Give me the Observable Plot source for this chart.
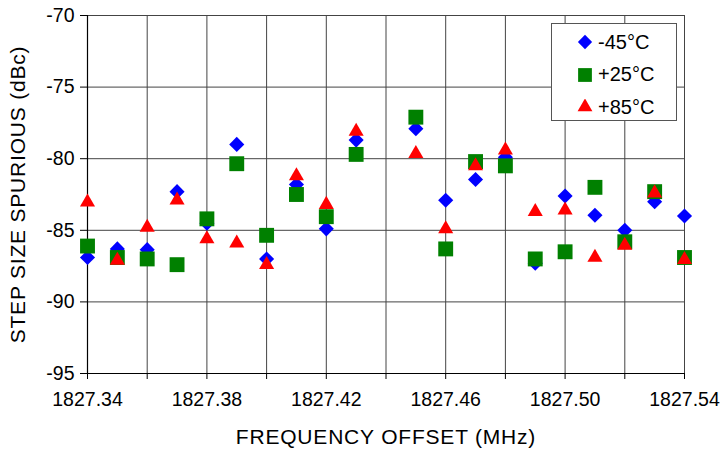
<!DOCTYPE html>
<html>
<head>
<meta charset="utf-8">
<script src="https://cdn.jsdelivr.net/npm/d3@7"></script>
<script src="https://cdn.jsdelivr.net/npm/@observablehq/plot@0.6"></script>
<style>
  html, body { margin: 0; padding: 0; background: #fff; }
  #wrap { position: relative; width: 722px; height: 450px; font-family: "Liberation Sans", Arial, sans-serif; }
  #legend { position: absolute; left: 551px; top: 23px; width: 124px; height: 96px; border: 1.5px solid #555; background: #fff; }
  .row { position: absolute; left: 0; height: 32px; display: flex; align-items: center; font-size: 20px; color: #000; }
  .row svg { margin-left: 25px; margin-right: 5px; }
  svg g[aria-label="x-axis label"] text, svg g[aria-label="y-axis label"] text { letter-spacing: 0.8px; font-size: 21px; }
</style>
</head>
<body>
<div id="wrap"></div>
<script>
// Frequencies (MHz)
const freq = [1827.34, 1827.35, 1827.36, 1827.37, 1827.38, 1827.39, 1827.40, 1827.41, 1827.42, 1827.43,
              1827.45, 1827.46, 1827.47, 1827.48, 1827.49, 1827.50, 1827.51, 1827.52, 1827.53, 1827.54];
// Step size spurious (dBc)
const m45 = [-86.9, -86.3, -86.35, -82.3, -84.5, -79.0, -87.0, -81.8, -84.9, -78.7,
             -77.9, -82.9, -81.45, -79.9, -87.3, -82.6, -83.95, -85.0, -83.0, -84.0];
const p25 = [-86.1, -86.9, -87.0, -87.4, -84.2, -80.35, -85.35, -82.5, -84.05, -79.7,
             -77.1, -86.3, -80.2, -80.5, -87.0, -86.5, -82.0, -85.8, -82.3, -86.9];
const p85 = [-83.03, -87.1, -84.8, -82.9, -85.6, -85.9, -87.4, -81.2, -83.2, -78.1,
             -79.65, -84.9, -80.5, -79.4, -83.7, -83.6, -86.9, -86.05, -82.4, -87.05];
const seriesNames = ["-45°C", "+25°C", "+85°C"];
const xTicks = [1827.34, 1827.36, 1827.38, 1827.40, 1827.42, 1827.44, 1827.46, 1827.48, 1827.50, 1827.52, 1827.54];
const xTickLabels = ["1827.34", "", "1827.38", "", "1827.42", "", "1827.46", "", "1827.50", "", "1827.54"];
const yTicks = [-95, -90, -85, -80, -75, -70];

const mk = vals => freq.map((f, i) => ({x: f, y: vals[i]}));
const dBlue = mk(m45), dGreen = mk(p25), dRed = mk(p85);

const gridColor = "#444";
const chart = Plot.plot({
  width: 722, height: 450,
  marginLeft: 87, marginRight: 38, marginTop: 15, marginBottom: 77,
  style: { fontFamily: "'Liberation Sans', Arial, sans-serif", fontSize: "20px", color: "#000", background: "#fff", overflow: "visible" },
  x: { domain: [1827.34, 1827.54] },
  y: { domain: [-95, -70] },
  marks: [
    Plot.gridX(xTicks, { stroke: gridColor, strokeOpacity: 1, strokeWidth: 1 }),
    Plot.gridY(yTicks, { stroke: gridColor, strokeOpacity: 1, strokeWidth: 1 }),
    Plot.ruleX([1827.34], { stroke: "#000", strokeWidth: 1.2 }),
    Plot.ruleY([-95], { stroke: "#000", strokeWidth: 1.2 }),
    Plot.axisY(yTicks, {
      tickSize: 7, tickPadding: 6, tickFormat: d => String(d),
      label: "STEP SIZE SPURIOUS (dBc)", labelAnchor: "center", labelArrow: "none", labelOffset: 77,
      fontSize: 19.5
    }),
    Plot.axisX(xTicks, {
      tickSize: 6, tickPadding: 13, tickFormat: d => xTickLabels[xTicks.indexOf(d)],
      label: "FREQUENCY OFFSET (MHz)", labelAnchor: "center", labelArrow: "none", labelOffset: 70,
      fontSize: 19.5
    }),
    Plot.dot(dBlue, { x: "x", y: "y", symbol: "diamond2", fill: "#0000ff", stroke: "none", r: 6.8 }),
    Plot.dot(dGreen, { x: "x", y: "y", symbol: "square", fill: "#008000", stroke: "none", r: 8.4 }),
    Plot.dot(dRed, { x: "x", y: "y", symbol: "triangle", fill: "#ff0000", stroke: "none", r: 5.6 })
  ]
});
const wrap = document.getElementById("wrap");
wrap.appendChild(chart);

// Legend
const legend = document.createElement("div");
legend.id = "legend";
const symbols = [
  { s: d3.symbolDiamond2, size: 130, color: "#0000ff" },
  { s: d3.symbolSquare, size: 190, color: "#008000" },
  { s: d3.symbolTriangle, size: 95, color: "#ff0000" }
];
seriesNames.forEach((name, i) => {
  const row = document.createElement("div");
  row.className = "row";
  row.style.top = (2 + i * 32.5) + "px";
  const sv = d3.create("svg").attr("width", 16).attr("height", 16);
  sv.append("path").attr("transform", "translate(8,8)")
    .attr("d", d3.symbol(symbols[i].s, symbols[i].size)())
    .attr("fill", symbols[i].color);
  row.appendChild(sv.node());
  const t = document.createElement("span");
  t.textContent = name;
  row.appendChild(t);
  legend.appendChild(row);
});
wrap.appendChild(legend);
</script>
</body>
</html>
